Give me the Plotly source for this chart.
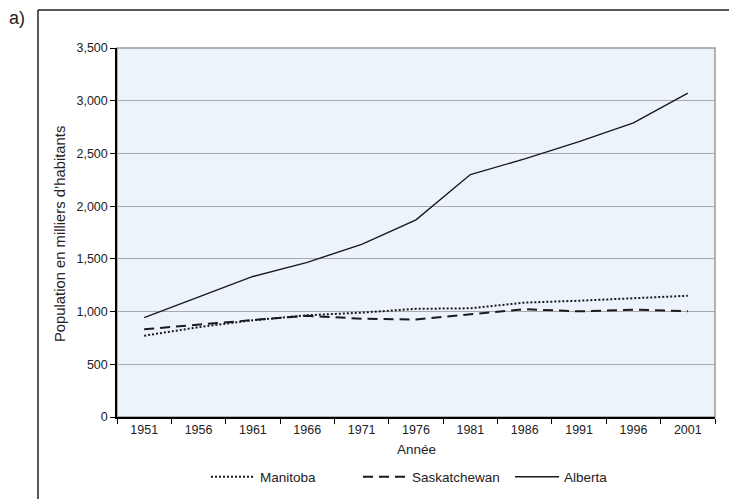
import plotly.graph_objects as go

years = ["1951", "1956", "1961", "1966", "1971", "1976", "1981", "1986", "1991", "1996", "2001"]
manitoba = [771, 852, 917, 965, 990, 1026, 1031, 1085, 1103, 1130, 1150]
saskatchewan = [832, 878, 920, 960, 932, 925, 972, 1022, 1002, 1018, 1003]
alberta = [943, 1135, 1333, 1467, 1638, 1870, 2300, 2448, 2612, 2790, 3073]

y_ticks = [0, 500, 1000, 1500, 2000, 2500, 3000, 3500]

FONT = "Liberation Sans, Arial, Helvetica, sans-serif"
INK = "#1a1a1a"
TXT = "#222222"

fig = go.Figure()
fig.add_trace(go.Scatter(x=years, y=manitoba, mode="lines", name="Manitoba",
                         line=dict(color=INK, width=2, dash="2px,2px")))
fig.add_trace(go.Scatter(x=years, y=saskatchewan, mode="lines", name="Saskatchewan",
                         line=dict(color=INK, width=2, dash="10px,6px")))
fig.add_trace(go.Scatter(x=years, y=alberta, mode="lines", name="Alberta",
                         line=dict(color=INK, width=1.4)))

W, H = 729, 499
L, R, T, B = 117, 14, 48, 82
pw, ph = W - L - R, H - T - B


def px_x(x):
    return (x - L) / pw


def px_y(y):
    return 1 - (y - T) / ph


fig.update_layout(
    width=W, height=H,
    margin=dict(l=L, r=R, t=T, b=B, autoexpand=False),
    paper_bgcolor="white",
    plot_bgcolor="#ECF3FA",
    font=dict(family=FONT, size=12, color=TXT),
    showlegend=True,
    legend=dict(orientation="h", x=px_x(206), xanchor="left", y=px_y(477), yanchor="middle",
                font=dict(size=13.5, color=TXT), bgcolor="rgba(0,0,0,0)",
                itemwidth=44, entrywidth=93, entrywidthmode="pixels"),
    xaxis=dict(type="category", categoryorder="array", categoryarray=years,
               range=[-0.5, len(years) - 0.5],
               tickson="boundaries", ticks="outside", ticklen=5, tickcolor="black",
               tickfont=dict(size=12.5, color=TXT), automargin=False,
               showline=True, linecolor="black", linewidth=1.5,
               showgrid=False, zeroline=False, fixedrange=True),
    yaxis=dict(range=[0, 3500], tickvals=y_ticks, tickformat=",",
               ticks="outside", ticklen=5, tickcolor="black",
               tickfont=dict(size=12.5, color=TXT), automargin=False,
               showline=True, linecolor="black", linewidth=1.5,
               showgrid=True, gridcolor="#A8A8A8", gridwidth=1,
               zeroline=False, fixedrange=True),
    shapes=[
        dict(type="rect", xref="paper", yref="paper", x0=0, x1=1, y0=0, y1=1,
             line=dict(color="#9A9A9A", width=1.5), layer="below"),
        dict(type="line", xref="paper", yref="paper", x0=px_x(38), x1=px_x(740),
             y0=px_y(10), y1=px_y(10), line=dict(color=TXT, width=1.5)),
        dict(type="line", xref="paper", yref="paper", x0=px_x(38), x1=px_x(38),
             y0=px_y(10), y1=px_y(510), line=dict(color=TXT, width=1.5)),
    ],
    annotations=[
        dict(text="a)", xref="paper", yref="paper", x=px_x(17), y=px_y(18),
             xanchor="center", yanchor="middle", showarrow=False,
             font=dict(size=18, color=TXT)),
        dict(text="Population en milliers d’habitants", xref="paper", yref="paper",
             x=px_x(60), y=px_y(234), textangle=-90, xanchor="center", yanchor="middle",
             showarrow=False, font=dict(size=14.8, color=TXT)),
        dict(text="Année", xref="paper", yref="paper", x=px_x(416), y=px_y(449),
             xanchor="center", yanchor="middle", showarrow=False,
             font=dict(size=13.5, color=TXT)),
    ],
)

fig.write_html("out.html", post_script="document.body.style.margin='0';",
               config={"displayModeBar": False})
